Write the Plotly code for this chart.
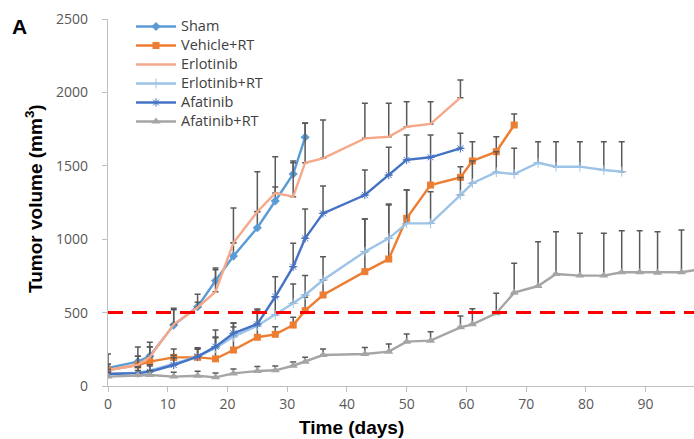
import plotly.graph_objects as go

# Measurement days shared by all groups
days = [0, 5, 7, 11, 15, 18, 21, 25, 28, 31, 33, 36, 43, 47, 50, 54, 59, 61,
        65, 68, 72, 75, 79, 83, 86, 89, 92, 96, 100]

# Mean tumor volume (mm^3) and upper SD per group
sham = [123, 166, 204, 415, 540, 717, 885, 1078, 1260, 1444, 1694]
sham_err = [95, 99, 94, 115, 85, 86, 90, 110, 95, 88, 96]

vehicle_rt = [109, 143, 166, 195, 195, 185, 245, 332, 352, 415, 513, 620, 779,
              865, 1142, 1369, 1421, 1533, 1596, 1778]
vehicle_rt_err = [40, 60, 100, 57, 62, 148, 157, 80, 52, 53, 91, 100, 358, 368,
                  193, 190, 73, 131, 102, 75]

erlotinib = [109, 143, 197, 420, 535, 642, 976, 1187, 1314, 1290, 1521, 1551,
             1687, 1698, 1766, 1785, 1964]
erlotinib_err = [40, 60, 71, 100, 35, 150, 236, 273, 248, 230, 270, 261, 239,
                 228, 171, 152, 120]

erlotinib_rt = [82, 91, 104, 150, 200, 259, 336, 410, 484, 563, 620, 722, 915,
                1006, 1108, 1108, 1301, 1381, 1456, 1444, 1521, 1494, 1494,
                1471, 1460]
erlotinib_rt_err = [30, 40, 40, 60, 60, 122, 93, 108, 124, 132, 132, 159, 222,
                    234, 227, 216, 120, 152, 140, 175, 143, 170, 170, 193, 204]

afatinib = [82, 88, 97, 143, 200, 268, 359, 422, 608, 813, 1006, 1176, 1301,
            1437, 1540, 1558, 1619]
afatinib_err = [30, 40, 40, 50, 50, 60, 70, 102, 137, 159, 199, 186, 170, 189,
                170, 152, 102]

afatinib_rt = [64, 75, 75, 64, 70, 59, 86, 102, 107, 138, 166, 211, 218, 234,
               302, 309, 400, 420, 495, 636, 681, 763, 752, 752, 775, 775, 772,
               775, 800]
afatinib_rt_err = [30, 30, 30, 30, 30, 30, 30, 30, 30, 25, 29, 41, 45, 52, 52,
                   61, 77, 107, 136, 200, 302, 288, 288, 288, 283, 283, 279,
                   288, 270]

threshold = 500
x_ticks = [0, 10, 20, 30, 40, 50, 60, 70, 80, 90]
y_ticks = [0, 500, 1000, 1500, 2000, 2500]

W, H = 694, 439
M_L, M_R, M_T, M_B = 108, 0, 19, 53
ERR_COLOR = "#595959"


def px_x(px):
    return (px - M_L) / (W - M_L - M_R)


def px_y(py):
    return (H - M_B - py) / (H - M_T - M_B)


def legend_name(text):
    # larger glyphs than the legend's base font keep the rows compact
    return "<span style='font-size:14.5px'>" + text + "</span>"


def series(name, values, errs, color, symbol=None, msize=7, mline=None):
    n = len(values)
    marker = dict(color=color, size=msize)
    mode = "lines"
    if symbol:
        mode = "lines+markers"
        marker["symbol"] = symbol
        if mline:
            marker["line"] = dict(color=mline, width=1)
    return go.Scatter(
        x=days[:n], y=values, name=legend_name(name), mode=mode,
        line=dict(color=color, width=2.4),
        marker=marker,
        error_y=dict(type="data", array=errs, arrayminus=[0] * n,
                     symmetric=False, color=ERR_COLOR, thickness=1.5, width=3),
    )


fig = go.Figure()
fig.add_trace(series("Sham", sham, sham_err, "#5B9BD5", "diamond", 7))
fig.add_trace(series("Vehicle+RT", vehicle_rt, vehicle_rt_err, "#ED7D31", "square", 7))
fig.add_trace(series("Erlotinib", erlotinib, erlotinib_err, "#F5A88A"))
fig.add_trace(series("Erlotinib+RT", erlotinib_rt, erlotinib_rt_err, "#9DC3E6",
                     "cross-thin-open", 7, "#B4D2EE"))
fig.add_trace(series("Afatinib", afatinib, afatinib_err, "#4472C4",
                     "asterisk-open", 7, "#9DB8E6"))
fig.add_trace(series("Afatinib+RT", afatinib_rt, afatinib_rt_err, "#A5A5A5",
                     "triangle-up", 8))

# 500 mm^3 threshold
fig.add_shape(type="line", xref="paper", yref="y", x0=0, x1=1,
              y0=threshold, y1=threshold, layer="above",
              line=dict(color="#FF0000", width=3, dash="15px,9px"))

axis_common = dict(showgrid=False, zeroline=False, showline=True,
                   linecolor="#BFBFBF", linewidth=1.3, ticks="outside",
                   tickcolor="#BFBFBF", ticklen=5,
                   tickfont=dict(family="Open Sans", size=14, color="#595959"))

fig.update_xaxes(range=[0, 98.1], tickvals=x_ticks, **axis_common)
fig.update_yaxes(range=[0, 2500], tickvals=y_ticks, ticklabelstandoff=11,
                 **axis_common)


def label(text, px, py, size, angle=0):
    return dict(text=text, xref="paper", yref="paper", x=px_x(px), y=px_y(py),
                xanchor="center", yanchor="middle", showarrow=False,
                textangle=angle,
                font=dict(family="Liberation Sans", size=size, color="black"))


fig.update_layout(
    width=W, height=H,
    margin=dict(l=M_L, r=M_R, t=M_T, b=M_B),
    plot_bgcolor="white", paper_bgcolor="white",
    showlegend=True,
    legend=dict(x=px_x(131), y=px_y(12), xanchor="left", yanchor="top",
                bgcolor="rgba(0,0,0,0)", tracegroupgap=0, itemwidth=40,
                font=dict(family="Open Sans", size=11, color="#404040")),
    annotations=[
        label("<b>A</b>", 20, 27, 21),
        label("<b>Time (days)</b>", 351, 428, 19),
        label("<b>Tumor volume (mm<sup>3</sup>)</b>", 34, 199, 19, -90),
    ],
)

fig.write_html("out.html")
